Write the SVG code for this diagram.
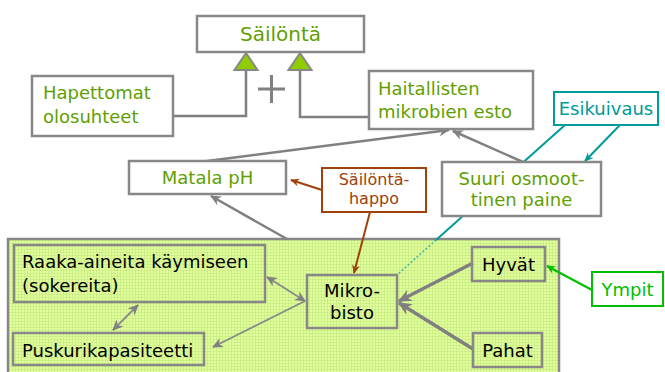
<svg xmlns="http://www.w3.org/2000/svg" width="665" height="372" viewBox="0 0 665 372">
<style>
text{font-family:"DejaVu Sans","Liberation Sans",sans-serif;font-size:18px}
.g{fill:#5f9f00}
.k{fill:#000}
.box{fill:#fff;stroke:#888;stroke-width:2.5}
.ibox{fill:none;stroke:#888;stroke-width:2.5}
.ln{stroke:#808080;stroke-width:2.5;fill:none}
.thin{stroke:#8a8a8a;stroke-width:1.8;fill:none}
.thick{stroke:#808080;stroke-width:3.5;fill:none}
</style>
<defs>
<pattern id="grid" width="3" height="3" patternUnits="userSpaceOnUse">
<rect width="3" height="3" fill="#e2ff9c"/>
<path d="M0,0.5H3M0.5,0V3" stroke="#c9ec86" stroke-width="0.8"/>
</pattern>
<marker id="ag" viewBox="0 0 10 10" refX="9" refY="5" markerWidth="11" markerHeight="11" markerUnits="userSpaceOnUse" orient="auto-start-reverse">
<path d="M0,0.5L10,5L0,9.5L3,5z" fill="#808080"/>
</marker>
<marker id="agl" viewBox="0 0 10 10" refX="9" refY="5" markerWidth="14" markerHeight="14" markerUnits="userSpaceOnUse" orient="auto">
<path d="M0,0.5L10,5L0,9.5L3,5z" fill="#808080"/>
</marker>
<marker id="ab" viewBox="0 0 10 10" refX="9" refY="5" markerWidth="9" markerHeight="9" markerUnits="userSpaceOnUse" orient="auto">
<path d="M0,0.5L10,5L0,9.5L3,5z" fill="#a0400a"/>
</marker>
<marker id="at" viewBox="0 0 10 10" refX="9" refY="5" markerWidth="9" markerHeight="9" markerUnits="userSpaceOnUse" orient="auto">
<path d="M0,0.5L10,5L0,9.5L3,5z" fill="#009a9a"/>
</marker>
<marker id="ay" viewBox="0 0 10 10" refX="9" refY="5" markerWidth="9" markerHeight="9" markerUnits="userSpaceOnUse" orient="auto">
<path d="M0,0.5L10,5L0,9.5L3,5z" fill="#00c000"/>
</marker>
</defs>

<g id="area">
<rect x="8" y="239" width="551" height="140" fill="url(#grid)" stroke="#888" stroke-width="2.5"/>
</g>

<g id="connectors">
<path class="ln" d="M173,116H246V70"/>
<path class="ln" d="M369,117H300V70"/>
<polygon points="246,53 234.5,70 257.5,70" fill="#8fcc00" stroke="#888" stroke-width="2"/>
<polygon points="300,53 288.5,70 311.5,70" fill="#8fcc00" stroke="#888" stroke-width="2"/>
<path d="M258,89H285M271.5,75V103" stroke="#808080" stroke-width="3"/>
<line class="ln" x1="207" y1="161" x2="449" y2="130" marker-end="url(#ag)"/>
<line class="ln" x1="523" y1="162" x2="453" y2="131" marker-end="url(#ag)"/>
<line class="ln" x1="287" y1="239" x2="211" y2="196" marker-end="url(#ag)"/>
<line x1="322" y1="190" x2="291" y2="180" stroke="#a0400a" stroke-width="2" marker-end="url(#ab)"/>
<line x1="370" y1="212" x2="354" y2="273" stroke="#a0400a" stroke-width="2" marker-end="url(#ab)"/>
<line x1="565" y1="125" x2="436" y2="240" stroke="#009a9a" stroke-width="2"/>
<line x1="436" y1="240" x2="398" y2="274" stroke="#3cb8a8" stroke-width="1.5" stroke-dasharray="2,2"/>
<line x1="620" y1="125" x2="585" y2="161" stroke="#009a9a" stroke-width="2" marker-end="url(#at)"/>
<line x1="592" y1="290" x2="547" y2="266" stroke="#00c000" stroke-width="2" marker-end="url(#ay)"/>
<line class="thick" x1="473" y1="263" x2="399" y2="301" marker-end="url(#agl)"/>
<line class="thick" x1="473" y1="349" x2="399" y2="303" marker-end="url(#agl)"/>
<line class="thin" x1="305" y1="301" x2="267" y2="277" marker-start="url(#ag)" marker-end="url(#ag)"/>
<line class="thin" x1="305" y1="301" x2="213" y2="347" marker-end="url(#ag)"/>
<line class="thin" x1="138" y1="305" x2="113" y2="330" marker-start="url(#ag)" marker-end="url(#ag)"/>
</g>

<g id="sailonta">
<rect class="box" x="197" y="16" width="167" height="36"/>
<text class="g" x="280.5" y="41" text-anchor="middle" style="font-size:20px">Säilöntä</text>
</g>
<g id="hapettomat">
<rect class="box" x="32" y="76" width="141" height="60"/>
<text class="g" x="43" y="99">Hapettomat</text>
<text class="g" x="43" y="123">olosuhteet</text>
</g>
<g id="haitallisten">
<rect class="box" x="369" y="71" width="164" height="58"/>
<text class="g" x="378" y="95">Haitallisten</text>
<text class="g" x="378" y="118">mikrobien esto</text>
</g>
<g id="esikuivaus">
<rect x="554" y="92" width="104" height="33" fill="#fff" stroke="#009a9a" stroke-width="2"/>
<text x="606" y="115" text-anchor="middle" fill="#009a9a">Esikuivaus</text>
</g>
<g id="matala">
<rect class="box" x="129" y="161" width="157" height="33"/>
<text class="g" x="207.5" y="184" text-anchor="middle">Matala pH</text>
</g>
<g id="happo">
<rect x="322" y="168" width="104" height="44" fill="#fff" stroke="#a0400a" stroke-width="2"/>
<text x="374" y="185" text-anchor="middle" fill="#a0400a" style="font-size:16px">Säilöntä-</text>
<text x="374" y="204" text-anchor="middle" fill="#a0400a" style="font-size:16px">happo</text>
</g>
<g id="suuri">
<rect class="box" x="442" y="162" width="159" height="54"/>
<text class="g" x="521.5" y="185" text-anchor="middle">Suuri osmoot-</text>
<text class="g" x="521.5" y="206" text-anchor="middle">tinen paine</text>
</g>
<g id="raaka">
<rect class="ibox" x="14" y="245" width="251" height="57"/>
<text class="k" x="22" y="268">Raaka-aineita käymiseen</text>
<text class="k" x="22" y="292">(sokereita)</text>
</g>
<g id="puskuri">
<rect class="ibox" x="13" y="333" width="191" height="32"/>
<text class="k" x="22" y="357">Puskurikapasiteetti</text>
</g>
<g id="mikrobisto">
<rect class="ibox" x="307" y="275" width="90" height="53"/>
<text class="k" x="352" y="297" text-anchor="middle">Mikro-</text>
<text class="k" x="352" y="319" text-anchor="middle">bisto</text>
</g>
<g id="hyvat">
<rect class="ibox" x="472" y="247" width="73" height="34"/>
<text class="k" x="508.5" y="271" text-anchor="middle">Hyvät</text>
</g>
<g id="pahat">
<rect class="ibox" x="473" y="333" width="69" height="34"/>
<text class="k" x="507.5" y="357" text-anchor="middle">Pahat</text>
</g>
<g id="ympit">
<rect x="592" y="272" width="71" height="34" fill="#fff" stroke="#00c000" stroke-width="2"/>
<text x="627.5" y="296" text-anchor="middle" fill="#00c000">Ympit</text>
</g>
</svg>
